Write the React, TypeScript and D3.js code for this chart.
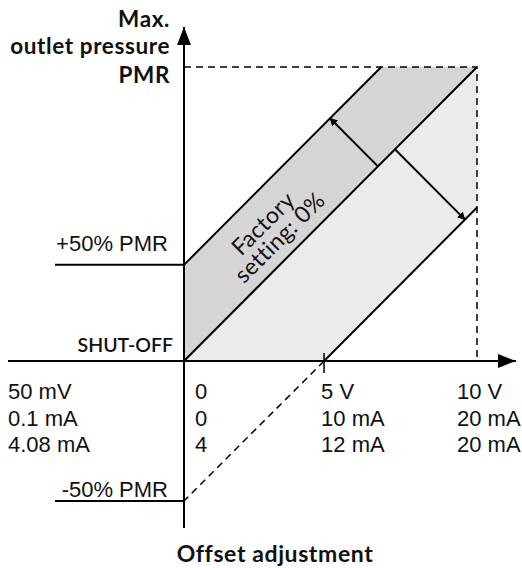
import * as d3 from "d3";

// schematic units: offset axis 0..100 (= 0..10 V), pressure 0..100 (= PMR)
const signalLeft = ["50 mV", "0.1 mA", "4.08 mA"];
const signalZero = ["0", "0", "4"];
const signalMid = ["5 V", "10 mA", "12 mA"];
const signalMax = ["10 V", "20 mA", "20 mA"];

const yTitle = ["Max.", "outlet pressure", "PMR"];
const xTitle = "Offset adjustment";
const bandLabel = ["Factory", "setting: 0%"];

const levelLabels = ["+50% PMR", "SHUT-OFF", "-50% PMR"];
const levelValues = [32.7, 0, -47.6];

const xMax = 100; // 10 V
const xMid = 47.8; // 5 V, where the lowest line crosses shut-off
const yMax = 100; // PMR
const upperOffset = 32.7;
const lowerOffset = -47.8;

// arrow anchors on the factory line
const arrowUp = [66.2, 16.35];
const arrowDown = [72.0, 23.9];

const W = 522;
const H = 568;

const x = d3.scaleLinear().domain([0, 100]).range([184, 477]);
const y = d3.scaleLinear().domain([0, 100]).range([361, 67]);

const line = d3
  .line<[number, number]>()
  .x((d) => x(d[0]))
  .y((d) => y(d[1]));

const App = () => {
  const darkBand: [number, number][] = [
    [0, upperOffset],
    [yMax - upperOffset, yMax],
    [xMax, yMax],
    [0, 0],
  ];
  const lightBand: [number, number][] = [
    [0, 0],
    [xMax, yMax],
    [xMax, xMax + lowerOffset],
    [xMid, 0],
  ];
  const sans = "'Liberation Sans', Arial, sans-serif";
  const head = "Lato, 'Open Sans', sans-serif";
  const rowY = [399, 426, 452];
  const cols = [
    { lab: signalLeft, x0: 8 },
    { lab: signalZero, x0: x(0) + 11 },
    { lab: signalMid, x0: x(xMid) - 3 },
    { lab: signalMax, x0: x(xMax) - 20 },
  ];

  return (
    <svg
      width={W}
      height={H}
      style={{ position: "absolute", left: 0, top: 0, background: "#fff" }}
    >
      <defs>
        <marker
          id="ah"
          viewBox="0 0 10 10"
          refX="9"
          refY="5"
          markerWidth="8"
          markerHeight="8"
          markerUnits="userSpaceOnUse"
          orient="auto"
        >
          <path d="M0,0 L10,5 L0,10 z" fill="#000" />
        </marker>
        <marker
          id="axh"
          viewBox="0 0 10 10"
          refX="10"
          refY="5"
          markerWidth="18"
          markerHeight="14"
          markerUnits="userSpaceOnUse"
          orient="auto"
          preserveAspectRatio="none"
        >
          <path d="M0,0 L10,5 L0,10 z" fill="#000" />
        </marker>
      </defs>

      <path d={line(darkBand) + "Z"} fill="#d5d5d5" />
      <path d={line(lightBand) + "Z"} fill="#ebebeb" />

      {/* dashed guides */}
      <g stroke="#000" strokeWidth={1.5} strokeDasharray="7,5" fill="none">
        <path d={line([[0, yMax], [xMax, yMax], [xMax, 0]])} />
        <path d={line([[xMid, 0], [0, levelValues[2]]])} />
      </g>

      {/* characteristic lines */}
      <g stroke="#000" strokeWidth={2} fill="none">
        <path d={line([[0, upperOffset], [yMax - upperOffset, yMax]])} />
        <path d={line([[0, 0], [xMax, yMax]])} />
        <path d={line([[xMid, 0], [xMax, xMax + lowerOffset]])} />
      </g>

      {/* adjustment arrows */}
      <g stroke="#000" strokeWidth={2} fill="none">
        <path
          d={line([
            [arrowUp[0], arrowUp[0]],
            [arrowUp[0] - arrowUp[1], arrowUp[0] + arrowUp[1]],
          ])}
          markerEnd="url(#ah)"
        />
        <path
          d={line([
            [arrowDown[0], arrowDown[0]],
            [arrowDown[0] + arrowDown[1], arrowDown[0] - arrowDown[1]],
          ])}
          markerEnd="url(#ah)"
        />
      </g>

      {/* axes */}
      <g stroke="#000" strokeWidth={2} fill="none">
        <line x1={8} x2={516} y1={y(0)} y2={y(0)} markerEnd="url(#axh)" />
        <line x1={x(0)} x2={x(0)} y1={528} y2={27} markerEnd="url(#axh)" />
        <line x1={55} x2={x(0)} y1={y(levelValues[0])} y2={y(levelValues[0])} />
        <line x1={55} x2={x(0)} y1={y(levelValues[2])} y2={y(levelValues[2])} />
        <line x1={x(xMid)} x2={x(xMid)} y1={y(0) - 8} y2={y(0) + 12} strokeWidth={1.5} />
      </g>

      {/* level labels */}
      <g fontFamily={sans} fontSize={22} textAnchor="end" fill="#111">
        <text x={168} y={y(levelValues[0]) - 14}>
          {levelLabels[0]}
        </text>
        <text x={168} y={y(levelValues[2]) - 4}>
          {levelLabels[2]}
        </text>
      </g>
      <text
        x={173}
        y={y(0) - 9}
        textAnchor="end"
        fontFamily={head}
        fontWeight={600}
        fontSize={19.5}
        fill="#111"
      >
        {levelLabels[1]}
      </text>

      {/* y title */}
      <g
        fontFamily={head}
        fontWeight={700}
        fontSize={22.5}
        letterSpacing={0.6}
        textAnchor="end"
        fill="#111"
      >
        {yTitle.map((t, i) => (
          <text key={t} x={170} y={[27, 54, 83][i]}>
            {t}
          </text>
        ))}
      </g>

      {/* signal tick labels */}
      <g fontFamily={sans} fontSize={22} fill="#111">
        {cols.map((c, ci) =>
          c.lab.map((t, i) => (
            <text key={ci + "-" + i} x={c.x0} y={rowY[i]}>
              {t}
            </text>
          ))
        )}
      </g>

      {/* band label */}
      <g
        transform={`translate(${x(30)},${y(44.2)}) rotate(-45)`}
        fontFamily={head}
        fontSize={23}
        letterSpacing={0.4}
        textAnchor="middle"
        fill="#111"
      >
        <text x={-1} y={-3.5}>
          {bandLabel[0]}
        </text>
        <text x={1} y={18}>
          {bandLabel[1]}
        </text>
      </g>

      <text
        x={275}
        y={562}
        textAnchor="middle"
        fontFamily={head}
        fontWeight={700}
        fontSize={23}
        letterSpacing={0.6}
        fill="#111"
      >
        {xTitle}
      </text>
    </svg>
  );
};

export default App;
